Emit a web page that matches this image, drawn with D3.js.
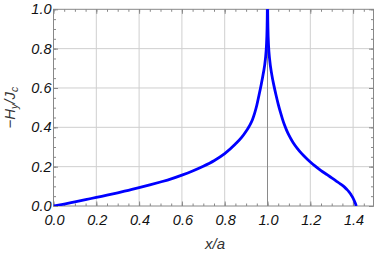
<!DOCTYPE html>
<html><head><meta charset="utf-8">
<script src="https://cdn.jsdelivr.net/npm/d3@7"></script>
<style>
html,body{margin:0;padding:0;background:#fff;}
svg{display:block;}
text{font-family:"Liberation Sans",Arial,sans-serif;font-style:italic;}
</style></head>
<body>
<script>
// Data
const leftX  = [0,0.05,0.1,0.15,0.2,0.25,0.3,0.35,0.4,0.45,0.5,0.55,0.6,0.65,0.7,0.75,0.8,0.85,0.88,0.9,0.91,0.92,0.93,0.94,0.95,0.96,0.97,0.98,0.99,0.995,0.998,0.999,0.9995];
const leftY  = [0,0.010,0.021,0.032,0.044,0.055,0.067,0.080,0.093,0.107,0.122,0.138,0.157,0.178,0.202,0.230,0.266,0.315,0.350,0.380,0.397,0.416,0.440,0.472,0.512,0.562,0.614,0.672,0.745,0.814,0.906,0.975,1.045];
const rightX = [1.0005,1.001,1.002,1.005,1.01,1.02,1.03,1.04,1.05,1.06,1.07,1.08,1.09,1.1,1.12,1.14,1.16,1.18,1.2,1.22,1.25,1.28,1.3,1.32,1.34,1.36,1.37,1.38,1.39,1.398,1.405,1.41,1.413,1.4142];
const rightY = [1.045,0.975,0.906,0.814,0.745,0.668,0.612,0.563,0.518,0.478,0.442,0.410,0.383,0.360,0.322,0.292,0.266,0.244,0.224,0.205,0.180,0.158,0.143,0.128,0.113,0.096,0.085,0.073,0.058,0.044,0.028,0.015,0.006,0];
const xTicks = [0,0.2,0.4,0.6,0.8,1.0,1.2,1.4];
const yTicks = [0,0.2,0.4,0.6,0.8,1.0];
const xGrid = [0.2,0.4,0.6,0.8,1.2,1.4];
const yGrid = [0.2,0.4,0.6,0.8];

const W=374,H=253;
const L=53.5, R=373.5, T=9.3, B=206;
const x = d3.scaleLinear().domain([0,1.4953]).range([L,R]);
const y = d3.scaleLinear().domain([0,1]).range([B,T]);

const svg = d3.select("body").append("svg").attr("width",W).attr("height",H);

svg.append("clipPath").attr("id","clip").append("rect")
  .attr("x",L).attr("y",T).attr("width",R-L).attr("height",B-T);

// grid
svg.append("g").selectAll("line").data(xGrid).join("line")
  .attr("x1",d=>x(d)).attr("x2",d=>x(d)).attr("y1",T).attr("y2",B)
  .attr("stroke","#cfcfcf").attr("stroke-width",1);
svg.append("g").selectAll("line").data(yGrid).join("line")
  .attr("x1",L).attr("x2",R).attr("y1",d=>y(d)).attr("y2",d=>y(d))
  .attr("stroke","#cfcfcf").attr("stroke-width",1);
// axis line at x = 1
svg.append("line").attr("x1",x(1)).attr("x2",x(1)).attr("y1",T).attr("y2",B)
  .attr("stroke","#8a8a8a").attr("stroke-width",1);

// frame with inward ticks via d3 axes
const xMinor = d3.range(0,1.5,0.05).map(v=>+v.toFixed(2));
const yMinor = d3.range(0,1.001,0.05).map(v=>+v.toFixed(2));
function frameAxis(axisGen, tr){
  const g = svg.append("g").attr("transform",tr).call(axisGen);
  g.selectAll("text").remove();
  g.select(".domain").remove();
  g.selectAll("line").attr("stroke","#888");
  return g;
}
frameAxis(d3.axisTop(x).tickValues(xMinor).tickSize(2.5),`translate(0,${B})`);
frameAxis(d3.axisTop(x).tickValues(xTicks).tickSize(4.5),`translate(0,${B})`);
frameAxis(d3.axisBottom(x).tickValues(xMinor).tickSize(2.5),`translate(0,${T})`);
frameAxis(d3.axisBottom(x).tickValues(xTicks).tickSize(4.5),`translate(0,${T})`);
frameAxis(d3.axisRight(y).tickValues(yMinor).tickSize(2.5),`translate(${L},0)`);
frameAxis(d3.axisRight(y).tickValues(yTicks).tickSize(4.5),`translate(${L},0)`);
frameAxis(d3.axisLeft(y).tickValues(yMinor).tickSize(2.5),`translate(${R},0)`);
frameAxis(d3.axisLeft(y).tickValues(yTicks).tickSize(4.5),`translate(${R},0)`);

svg.append("rect").attr("x",L).attr("y",T).attr("width",R-L).attr("height",B-T)
  .attr("fill","none").attr("stroke","#888").attr("stroke-width",1);

// curve
const line = d3.line().x(d=>x(d[0])).y(d=>y(d[1])).curve(d3.curveMonotoneX);
const gc = svg.append("g").attr("clip-path","url(#clip)");
[[leftX,leftY],[rightX,rightY]].forEach(([xs,ys])=>{
  gc.append("path").datum(xs.map((v,i)=>[v,ys[i]]))
    .attr("d",line).attr("fill","none").attr("stroke","#0000ff")
    .attr("stroke-width",2.8).attr("stroke-linejoin","round");
});

// tick labels
svg.append("g").selectAll("text").data(xTicks).join("text")
  .attr("x",d=>x(d)+1).attr("y",B+19).attr("text-anchor","middle")
  .attr("font-size",14.5).attr("fill","#111").text(d=>d.toFixed(1));
svg.append("g").selectAll("text").data(yTicks).join("text")
  .attr("x",L-2).attr("y",d=>y(d)+5).attr("text-anchor","end")
  .attr("font-size",14.5).attr("fill","#111").text(d=>d.toFixed(1));

// axis titles
const xt = svg.append("text").attr("x",215).attr("y",249).attr("text-anchor","middle")
  .attr("font-size",15).attr("fill","#333");
xt.append("tspan").text("x/a");

const yt = svg.append("text").attr("transform",`translate(15,${(T+B)/2}) rotate(-90)`)
  .attr("text-anchor","middle").attr("font-size",15).attr("fill","#333");
yt.append("tspan").text("\u2212H");
yt.append("tspan").attr("font-size",10.5).attr("dy",3).text("y");
yt.append("tspan").attr("dy",-3).text("/J");
yt.append("tspan").attr("font-size",10.5).attr("dy",3).text("c");
</script>
</body></html>
